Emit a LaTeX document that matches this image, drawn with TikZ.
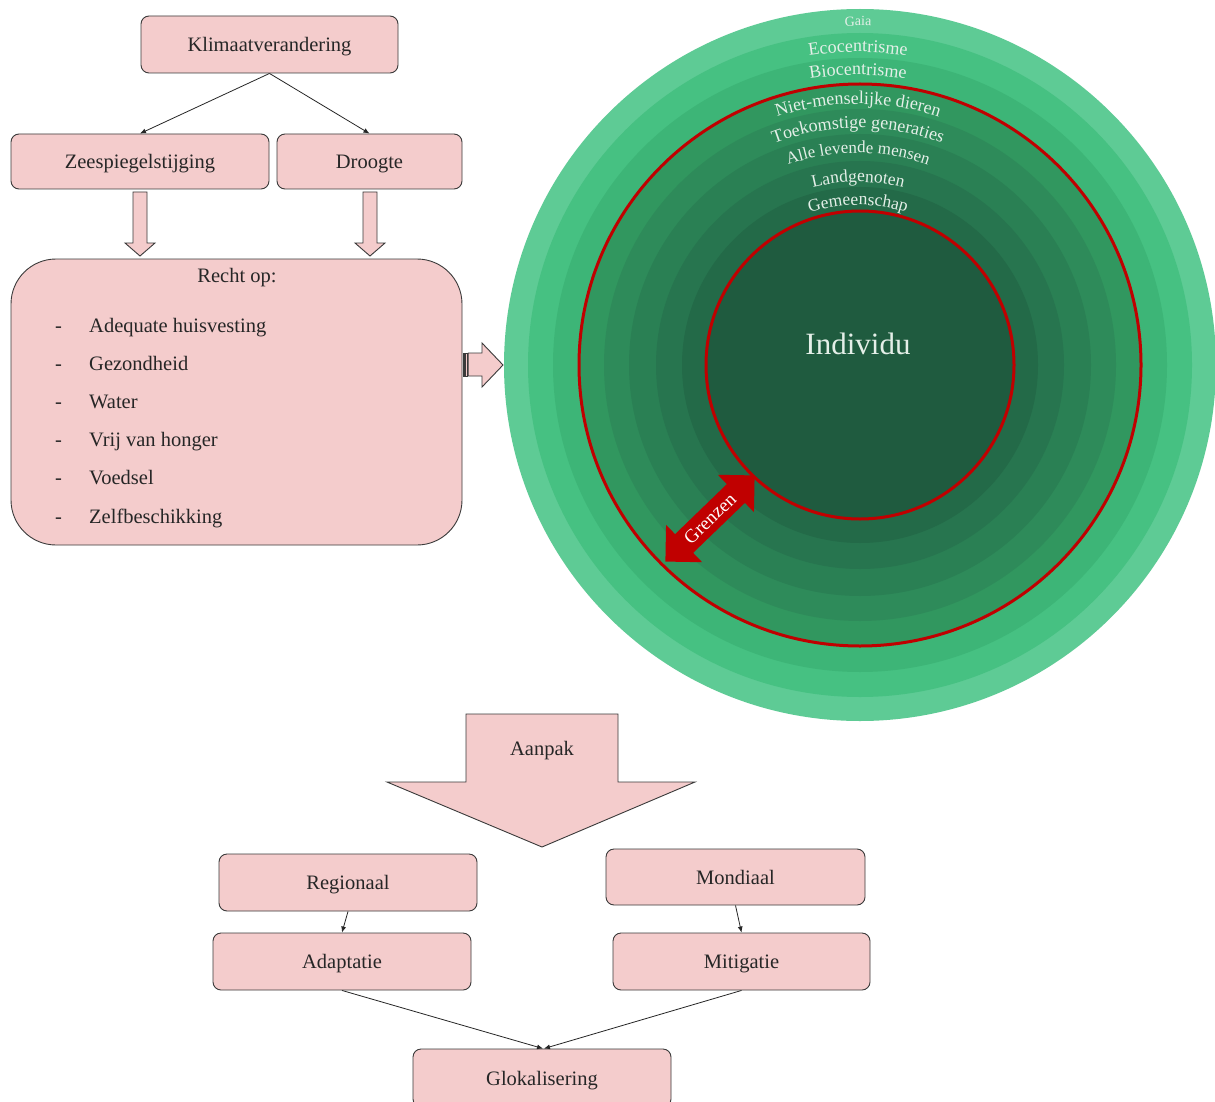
\documentclass[tikz,border=0pt]{standalone}
\usepackage{fontspec}
\setmainfont{Liberation Serif}
\usetikzlibrary{decorations.text,arrows.meta}
\definecolor{boxfill}{HTML}{F4CCCC}
\definecolor{boxline}{HTML}{3A3A3A}
\definecolor{ringred}{HTML}{C00000}
\definecolor{ringtext}{HTML}{E4EFE8}
\definecolor{rgA}{HTML}{5ECB95}
\definecolor{rgB}{HTML}{46C182}
\definecolor{rgC}{HTML}{3DB577}
\definecolor{rgD}{HTML}{31975F}
\definecolor{rgE}{HTML}{2E8B5A}
\definecolor{rgF}{HTML}{2A8054}
\definecolor{rgG}{HTML}{27754F}
\definecolor{rgH}{HTML}{236A48}
\definecolor{rgI}{HTML}{1F5B3F}
\begin{document}
\begin{tikzpicture}[x=1pt,y=1pt,
  txt/.style={font=\fontsize{20.5}{24}\selectfont,text=black!85},
  pbox/.style={txt,draw=boxline,fill=boxfill,rounded corners=8pt,line width=0.9pt,
    inner sep=0pt,text height=14pt,text depth=0pt},
  conn/.style={draw=black!85,line width=0.8pt,-{Latex[length=6pt,width=5pt]}},
  barrow/.style={draw=boxline,fill=boxfill,line width=0.9pt,line join=miter},
  ringlbl/.style={decorate,decoration={text along path,text align=center,text color=ringtext,text={#1}}},
]
\useasboundingbox (0,0) rectangle (1215,-1102);
\fill[white] (0,0) rectangle (1215,-1102);

% ---------- top flow ----------
\node[pbox,minimum width=257pt,minimum height=57pt] (klima) at (269.5,-44.5) {Klimaatverandering};
\node[pbox,minimum width=258pt,minimum height=55pt] (zee) at (140,-161.5) {Zeespiegelstijging};
\node[pbox,minimum width=185pt,minimum height=55pt] (droog) at (369.5,-161.5) {Droogte};
\draw[conn] (klima.south) -- (zee.north);
\draw[conn] (klima.south) -- (droog.north);

% block arrows down
\draw[barrow] (133,-192) -- (147,-192) -- (147,-243) -- (155,-243) -- (140,-256) -- (125,-243) -- (133,-243) -- cycle;
\draw[barrow] (363,-192) -- (377,-192) -- (377,-243) -- (385,-243) -- (370,-256) -- (355,-243) -- (363,-243) -- cycle;

% rights box
\node[draw=boxline,fill=boxfill,rounded corners=45pt,line width=0.9pt,minimum width=451pt,minimum height=286pt,inner sep=0pt] (recht) at (236.5,-402) {};
\node[txt,anchor=base] (rechtop) at (237,-282) {Recht op:};
\foreach \i/\t/\y in {1/Adequate huisvesting/332,2/Gezondheid/370,3/Water/408,4/Vrij van honger/446,5/Voedsel/484,6/Zelfbeschikking/523}{
  \node[txt,anchor=base west,inner sep=0pt] (d\i) at (55,-\y) {-};
  \node[txt,anchor=base west,inner sep=0pt] (l\i) at (89,-\y) {\t};
}

% striped right arrow
\draw[barrow,line width=0.7pt] (463,-353) rectangle (464.6,-376);
\draw[barrow,line width=0.7pt] (465.6,-353) rectangle (467.2,-376);
\draw[barrow] (468.2,-353) -- (482,-353) -- (482,-343) -- (503,-365) -- (482,-387) -- (482,-376) -- (468.2,-376) -- cycle;

% ---------- circle ----------
\coordinate (c) at (860,-365);
\foreach \r/\col in {356/rgA,332/rgB,307/rgC,281/rgD,256/rgE,231/rgF,204/rgG,178/rgH,154/rgI}{
  \fill[\col] (c) circle[radius=\r];
}
\draw[ringred,line width=3pt] (c) circle[radius=281];
\draw[ringred,line width=3pt] (c) circle[radius=154];

\coordinate (tc) at (858,-365);
\path[ringlbl={|\fontsize{14}{16}\selectfont|Gaia}] (tc) ++(150:339) arc[start angle=150,end angle=30,radius=339];
\path[ringlbl={|\fontsize{18}{20}\selectfont|Ecocentrisme}] (tc) ++(150:313) arc[start angle=150,end angle=30,radius=313];
\path[ringlbl={|\fontsize{18}{20}\selectfont|Biocentrisme}] (tc) ++(150:290) arc[start angle=150,end angle=30,radius=290];
\path[ringlbl={|\fontsize{18}{20}\selectfont|Niet-menselijke dieren}] (tc) ++(150:261) arc[start angle=150,end angle=30,radius=261];
\path[ringlbl={|\fontsize{18}{20}\selectfont|Toekomstige generaties}] (tc) ++(150:237) arc[start angle=150,end angle=30,radius=237];
\path[ringlbl={|\fontsize{17}{19}\selectfont|Alle levende mensen}] (tc) ++(150:212) arc[start angle=150,end angle=30,radius=212];
\path[ringlbl={|\fontsize{17.5}{20}\selectfont|Landgenoten}] (tc) ++(150:183) arc[start angle=150,end angle=30,radius=183];
\path[ringlbl={|\fontsize{17.5}{20}\selectfont|Gemeenschap}] (tc) ++(150:160) arc[start angle=150,end angle=30,radius=160];

\node[anchor=base,text=ringtext,font=\fontsize{31}{36}\selectfont] (ind) at (858,-354) {Individu};

\begin{scope}[shift={(710,-518.5)},rotate=44]
  \fill[ringred] (-62,0) -- (-36,26) -- (-36,13) -- (36,13) -- (36,26) -- (62,0) -- (36,-26) -- (36,-13) -- (-36,-13) -- (-36,-26) -- cycle;
  \node[transform shape,text=white,font=\fontsize{19}{21}\selectfont,inner sep=0pt] (grenzen) at (0,0) {Grenzen};
\end{scope}

% ---------- lower flow ----------
\draw[barrow] (466,-714) -- (618,-714) -- (618,-782) -- (695,-782) -- (542,-847) -- (387,-782) -- (466,-782) -- cycle;
\node[txt,anchor=base] (aanpak) at (542,-755) {Aanpak};

\node[pbox,minimum width=258pt,minimum height=57pt] (regio) at (348,-882.5) {Regionaal};
\node[pbox,minimum width=259pt,minimum height=56pt] (mond) at (735.5,-877) {Mondiaal};
\node[pbox,minimum width=258pt,minimum height=57pt] (adapt) at (342,-961.5) {Adaptatie};
\node[pbox,minimum width=257pt,minimum height=57pt] (mitig) at (741.5,-961.5) {Mitigatie};
\node[pbox,minimum width=258pt,minimum height=58pt] (glok) at (542,-1078) {Glokalisering};

\draw[conn] (regio.south) -- (adapt.north);
\draw[conn] (mond.south) -- (mitig.north);
\draw[conn] (adapt.south) -- ([xshift=1pt]glok.north);
\draw[conn] (mitig.south) -- ([xshift=2pt]glok.north);
\end{tikzpicture}
\end{document}
